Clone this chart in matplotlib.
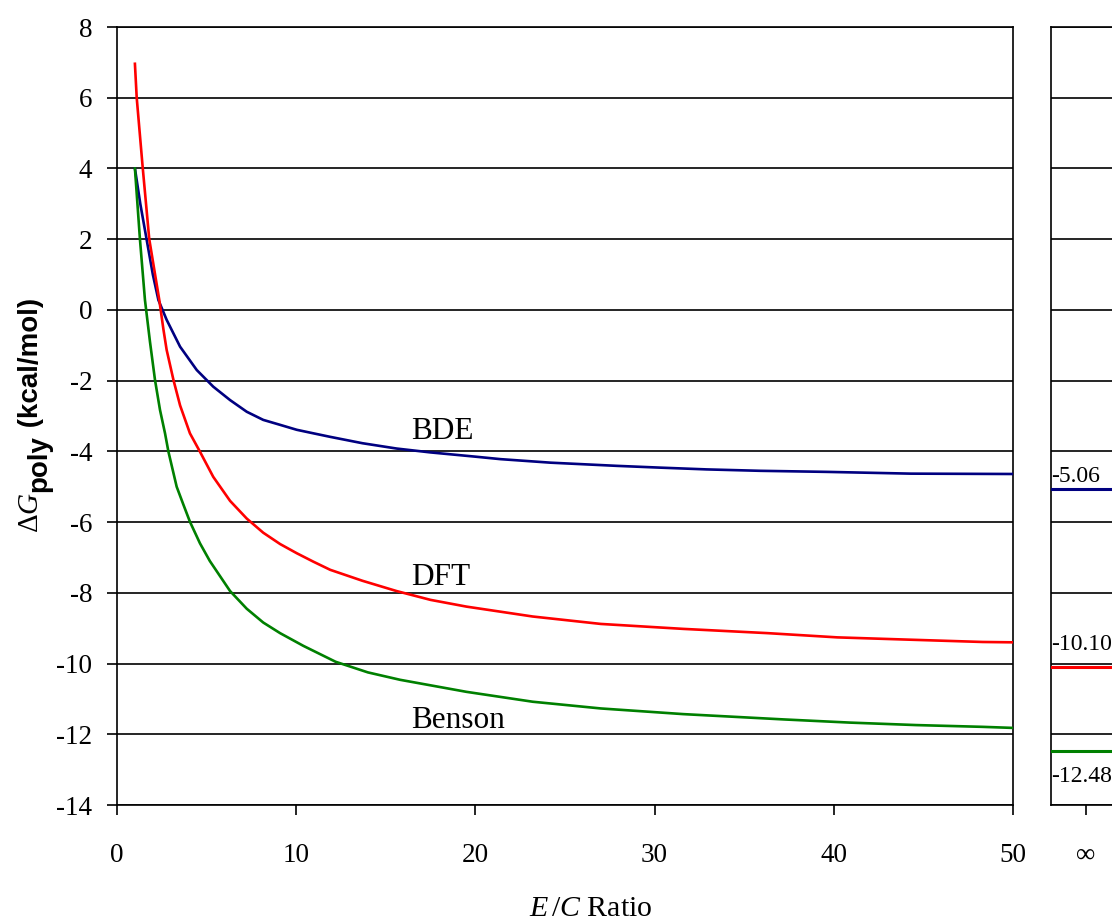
import matplotlib
matplotlib.use("Agg")
import matplotlib.pyplot as plt

# ---------------- data ----------------
bde_x = [1, 1.3, 1.65, 2.0, 2.31, 2.77, 3.52, 4.45, 5.37, 6.31, 7.24, 8.16, 9.1,
         10.03, 10.96, 11.9, 13.7, 15.6, 17.5, 20, 21.4, 24.2, 27.9, 30.3, 32.9,
         35.9, 39.6, 44.3, 50]
bde_y = [4.0, 3.0, 2.0, 1.0, 0.28, -0.28, -1.04, -1.70, -2.17, -2.55, -2.88, -3.11,
         -3.25, -3.39, -3.49, -3.59, -3.77, -3.92, -4.03, -4.15, -4.22, -4.32, -4.41,
         -4.46, -4.51, -4.55, -4.58, -4.63, -4.64]

dft_x = [1, 1.1, 1.43, 1.8, 2.36, 2.59, 2.77, 3.15, 3.52, 4.07, 4.63, 5.37, 6.31,
         7.24, 8.16, 9.1, 10.03, 10.96, 11.9, 13.7, 15.6, 17.5, 19.5, 23.2, 27, 31.6,
         36.3, 40.2, 43.9, 48.3, 50]
dft_y = [6.96, 6.0, 4.05, 2.0, 0.28, -0.55, -1.13, -1.98, -2.7, -3.49, -4.01, -4.72,
         -5.4, -5.9, -6.3, -6.62, -6.88, -7.12, -7.35, -7.66, -7.95, -8.2, -8.39,
         -8.67, -8.88, -9.02, -9.14, -9.26, -9.32, -9.39, -9.40]

ben_x = [1, 1.28, 1.56, 1.84, 2.12, 2.4, 2.68, 2.87, 3.33, 3.7, 4.07, 4.63, 5.18,
         6.31, 7.24, 8.16, 9.1, 10.4, 12.2, 14, 15.8, 19.5, 23.2, 27, 31.6, 37.2, 40.9,
         44.6, 48.3, 50]
ben_y = [4.0, 2.0, 0.28, -0.9, -1.98, -2.83, -3.49, -4.01, -5.0, -5.5, -5.99, -6.6,
         -7.1, -7.95, -8.45, -8.84, -9.14, -9.5, -9.95, -10.25, -10.46, -10.8, -11.08,
         -11.27, -11.43, -11.58, -11.67, -11.74, -11.79, -11.82]

series_names = ["BDE", "DFT", "Benson"]
series_colors = ["#000080", "#FF0000", "#008000"]
inf_values = [-5.06, -10.10, -12.48]

x_ticks = [0, 10, 20, 30, 40, 50]
y_ticks = list(range(-14, 9, 2))
inf_tick_label = "\u221e"

# ---------------- style ----------------
plt.rcParams["font.family"] = ["Liberation Serif", "DejaVu Serif"]
plt.rcParams["axes.unicode_minus"] = False
plt.rcParams["mathtext.fontset"] = "custom"
plt.rcParams["mathtext.rm"] = "Liberation Serif"
plt.rcParams["mathtext.it"] = "Liberation Serif:italic"
plt.rcParams["mathtext.bf"] = "Liberation Serif:bold"

W, H = 1112, 921
fig = plt.figure(figsize=(W / 100, H / 100), dpi=100)
fig.patch.set_facecolor("white")

ax = fig.add_axes([117 / W, 1 - 805 / H, 896 / W, 778 / H])
ax2 = fig.add_axes([1051 / W, 1 - 805 / H, 70 / W, 778 / H])

for a in (ax, ax2):
    a.set_ylim(-14, 8)
    a.set_yticks(y_ticks)
    a.grid(axis="y", color="black", lw=1.2, zorder=0)
    a.set_axisbelow(True)
    for s in a.spines.values():
        s.set_color("black")
        s.set_linewidth(1.2)

ax.set_xlim(0, 50)
ax.set_xticks(x_ticks)
ax.tick_params(axis="both", direction="out", length=7.2, width=1.2, color="black",
               labelsize=19.5)
ax.tick_params(axis="x", pad=20)
ax.tick_params(axis="y", pad=10.5)

lw = 1.9
ax.plot(bde_x, bde_y, color=series_colors[0], lw=lw, zorder=3)
ax.plot(dft_x, dft_y, color=series_colors[1], lw=lw, zorder=3)
ax.plot(ben_x, ben_y, color=series_colors[2], lw=lw, zorder=3)

ax.text(16.4, -3.65, series_names[0], fontsize=22.5, va="baseline", ha="left")
ax.text(16.4, -7.78, series_names[1], fontsize=22.5, va="baseline", ha="left")
ax.text(16.4, -11.82, series_names[2], fontsize=22.5, va="baseline", ha="left")

# ---------------- infinity panel ----------------
ax2.set_xlim(0, 2)
ax2.set_xticks([1])
ax2.set_xticklabels([inf_tick_label])
ax2.tick_params(axis="x", direction="out", length=7.2, width=1.2, labelsize=19.5, pad=20)
ax2.tick_params(axis="y", length=0, labelleft=False)
offsets = [7, 17, -31]
for v, c, off in zip(inf_values, series_colors, offsets):
    ax2.axhline(v, color=c, lw=2.2, zorder=3)
    ax2.annotate(f"{v:.2f}", xy=(0, v), xycoords=("axes fraction", "data"),
                 xytext=(0, off), textcoords="offset pixels",
                 fontsize=17, ha="left", va="baseline", annotation_clip=False)

# ---------------- axis labels ----------------
fig.text(591 / W, 1 - 916 / H, r"$E\,/C$ Ratio", ha="center", va="baseline", fontsize=21.5)

renderer = fig.canvas.get_renderer()
base_x = 38
start_y = H - 533
pieces = [
    (r"$\Delta G$", dict(family="Liberation Serif", size=21), 0),
    ("poly", dict(family="Liberation Sans", weight="bold", size=20), 8),
    (" (kcal/mol)", dict(family="Liberation Sans", weight="bold", size=20), 0),
]
y = start_y
for txt, kw, dx in pieces:
    t = fig.text((base_x + dx) / W, y / H, txt, rotation=90, rotation_mode="anchor",
                 ha="left", va="baseline", **kw)
    bb = t.get_window_extent(renderer)
    y = bb.y1

fig.savefig("out.png", dpi=100, facecolor="white")
